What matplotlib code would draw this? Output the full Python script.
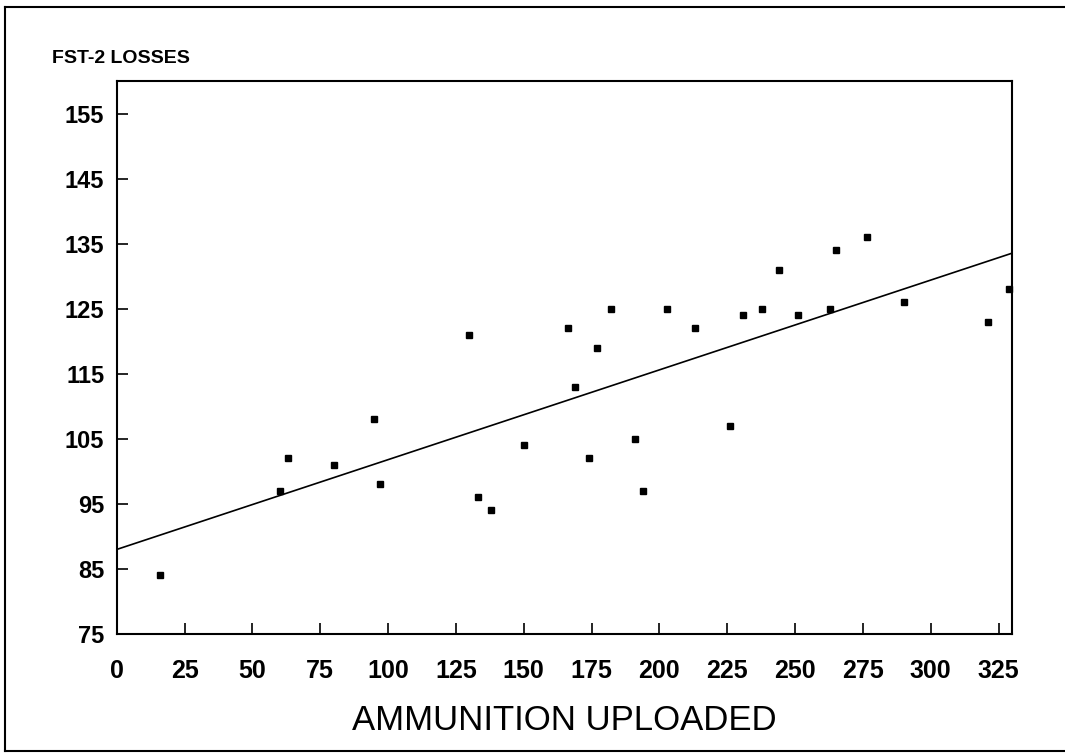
import matplotlib
matplotlib.use('Agg')
import matplotlib.pyplot as plt
from matplotlib.lines import Line2D

# Scatter values: ammunition uploaded vs FST-2 losses
ammo = [16, 60, 63, 80, 95, 97, 130, 133, 138, 150,
        166.5, 169, 174, 177, 182, 191, 194, 203, 213, 226,
        231, 238, 244, 251, 263, 265, 276.5, 290, 321, 329]
losses = [84, 97, 102, 101, 108, 98, 121, 96, 94, 104,
          122, 113, 102, 119, 125, 105, 97, 125, 122, 107,
          124, 125, 131, 124, 125, 134, 136, 126, 123, 128]

# Fitted regression line (intercept, slope) as drawn on the chart
fit_intercept = 88.0
fit_slope = 0.138
fit_x = [0, 330]

x_ticks = list(range(0, 326, 25))
y_ticks = list(range(75, 156, 10))

plt.rcParams['font.family'] = ['Liberation Sans', 'DejaVu Sans']

fig = plt.figure(figsize=(10.65, 7.53), dpi=100)
ax = fig.add_axes([0.1096, 0.158, 0.8407, 0.7344])

ax.plot(fit_x, [fit_intercept + fit_slope * v for v in fit_x],
        color='black', linewidth=1.2, zorder=2)
ax.plot(ammo, losses, linestyle='none', marker='s', markersize=4.5,
        color='black', zorder=3, clip_on=False)

ax.set_xlim(0, 330)
ax.set_ylim(75, 160)
ax.set_xticks(x_ticks)
ax.set_yticks(y_ticks)
ax.tick_params(direction='in', length=8, width=1.2, color='black')
ax.tick_params(axis='x', pad=18, labelsize=18)
ax.tick_params(axis='y', pad=9, labelsize=17)
for lab in ax.get_xticklabels() + ax.get_yticklabels():
    lab.set_fontweight('bold')
for sp in ax.spines.values():
    sp.set_linewidth(1.5)

# the original lettering is condensed; sizes chosen to keep its width
ax.set_xlabel('AMMUNITION UPLOADED', fontsize=25, labelpad=15)
fig.text(52 / 1065, 1 - 58.5 / 753, 'FST-2 LOSSES',
         fontweight='bold', fontsize=14, ha='left', va='center')

# Outer border of the page (left, top and bottom edges)
fw, fh = 1065.0, 753.0
for xs, ys in [([5, 5], [7, 751]), ([5, 1065], [7, 7]), ([5, 1065], [751, 751])]:
    fig.add_artist(Line2D([v / fw for v in xs], [1 - v / fh for v in ys],
                          color='black', linewidth=1.5))

plt.savefig('out.png', dpi=100)
